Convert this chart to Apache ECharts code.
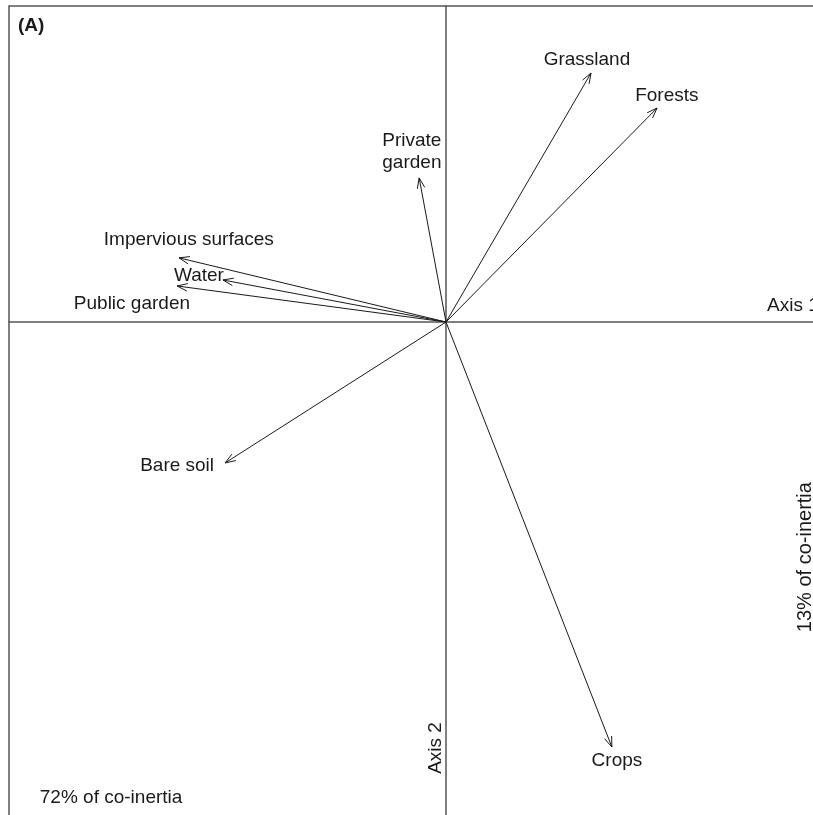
<!DOCTYPE html>
<html>
<head>
<meta charset="utf-8">
<script src="https://cdn.jsdelivr.net/npm/echarts@6/dist/echarts.min.js"></script>
<style>
html,body{margin:0;padding:0;background:#fff;}
#chart{width:813px;height:815px;}
</style>
</head>
<body>
<div id="chart"></div>
<script>
// Variables (arrow tips, co-inertia axes 1 and 2)
const categories = ['Impervious surfaces', 'Water', 'Public garden', 'Private\ngarden', 'Grassland', 'Forests', 'Bare soil', 'Crops'];
const axis1 = [-0.845, -0.706, -0.851, -0.085, 0.459, 0.668, -0.699, 0.525];
const axis2 = [0.203, 0.133, 0.114, 0.456, 0.788, 0.677, -0.446, -1.345];
// Label anchor positions (same coordinate system)
const labelAxis1 = [-0.814, -0.782, -0.994, -0.108, 0.446, 0.699, -0.851, 0.541];
const labelAxis2 = [0.259, 0.146, 0.057, 0.538, 0.829, 0.715, -0.456, -1.389];
// Axis annotations
const annotTexts = ['Axis 1', 'Axis 2', '72% of co-inertia', '13% of co-inertia'];
const annotAxis1 = [1.098, -0.032, -1.060, 1.139];
const annotAxis2 = [0.051, -1.348, -1.506, -0.744];
const annotRotated = [false, true, false, true];

const FONT = '"Liberation Sans", Arial, Helvetica, sans-serif';
const TXT = '#1a1a1a';

const chart = echarts.init(document.getElementById('chart'), null, {renderer: 'canvas'});

const arrowData = categories.map((c, i) => ({name: c, value: [axis1[i], axis2[i]]}));
const labelData = categories.map((c, i) => ({name: c, value: [labelAxis1[i], labelAxis2[i]]}));
const annotData = annotTexts.map((t, i) => ({
  name: t,
  value: [annotAxis1[i], annotAxis2[i]],
  label: annotRotated[i] ? {rotate: 90, fontSize: i === 3 ? 20 : 19} : {}
}));

const axisCommon = {
  type: 'value',
  axisLine: {show: true, onZero: true, lineStyle: {color: '#555', width: 1.5}},
  axisTick: {show: false},
  axisLabel: {show: false},
  splitLine: {show: false}
};

chart.setOption({
  animation: false,
  backgroundColor: '#fff',
  grid: {
    left: 9, top: 6, width: 874, height: 821.6,
    outerBoundsMode: 'none',
    containLabel: false,
    show: true, borderColor: '#555', borderWidth: 1.5, backgroundColor: 'transparent'
  },
  xAxis: Object.assign({min: -1.383, max: 1.383}, axisCommon),
  yAxis: Object.assign({min: -1.6, max: 1.0}, axisCommon),
  graphic: [{
    type: 'text', left: 18, top: 16,
    style: {text: '(A)', font: 'bold 19px ' + FONT, fill: TXT}
  }],
  series: [
    {
      type: 'custom',
      name: 'arrows',
      data: arrowData,
      z: 3,
      renderItem: function (params, api) {
        const p0 = api.coord([0, 0]);
        const p1 = api.coord([api.value(0), api.value(1)]);
        const ang = Math.atan2(p1[1] - p0[1], p1[0] - p0[0]);
        const L = 11, a = Math.PI / 9;
        const h1 = [p1[0] - L * Math.cos(ang - a), p1[1] - L * Math.sin(ang - a)];
        const h2 = [p1[0] - L * Math.cos(ang + a), p1[1] - L * Math.sin(ang + a)];
        const st = {stroke: '#1a1a1a', lineWidth: 1, fill: null};
        return {
          type: 'group',
          children: [
            {type: 'line', shape: {x1: p0[0], y1: p0[1], x2: p1[0], y2: p1[1]}, style: st},
            {type: 'polyline', shape: {points: [h1, p1, h2]}, style: st}
          ]
        };
      }
    },
    {
      type: 'scatter',
      name: 'labels',
      data: labelData,
      symbolSize: 0,
      itemStyle: {color: 'transparent', opacity: 1},
      z: 4,
      label: {
        show: true, position: 'inside', formatter: '{b}', opacity: 1,
        color: TXT, textBorderWidth: 0, fontSize: 19, fontFamily: FONT, lineHeight: 22, align: 'center'
      }
    },
    {
      type: 'scatter',
      name: 'annotations',
      data: annotData,
      symbolSize: 0,
      itemStyle: {color: 'transparent', opacity: 1},
      z: 4,
      label: {
        show: true, position: 'inside', formatter: '{b}', opacity: 1,
        color: TXT, textBorderWidth: 0, fontSize: 19, fontFamily: FONT
      }
    }
  ]
});
</script>
</body>
</html>
